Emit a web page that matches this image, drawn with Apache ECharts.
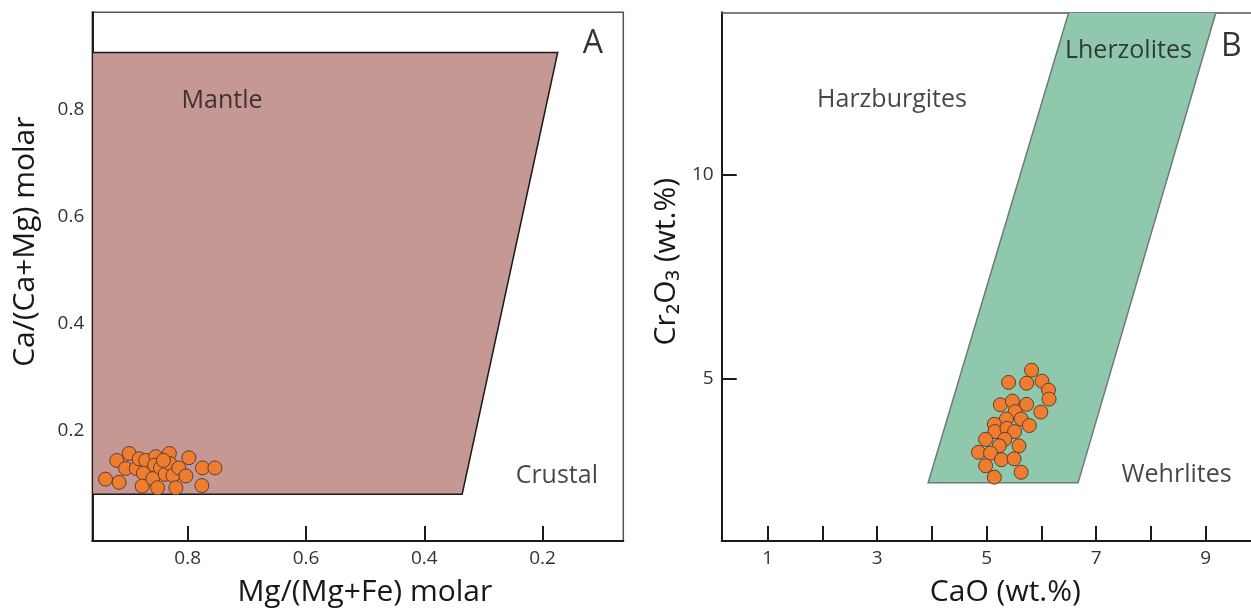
<!DOCTYPE html>
<html>
<head>
<meta charset="utf-8">
<title>Olivine / garnet discrimination plots</title>
<script src="https://cdn.jsdelivr.net/npm/echarts@6/dist/echarts.min.js"></script>
<style>
  html, body { margin: 0; padding: 0; background: #fff; }
  #chart { width: 1251px; height: 612px; }
</style>
</head>
<body>
<div id="chart"></div>
<script>
// ---- panel A: Mg/(Mg+Fe) vs Ca/(Ca+Mg) ----
const mgNumber = [0.939, 0.916, 0.920, 0.899, 0.905, 0.887, 0.882, 0.871, 0.875, 0.877,
  0.854, 0.856, 0.859, 0.851, 0.846, 0.838, 0.831, 0.830, 0.825, 0.820,
  0.815, 0.803, 0.798, 0.775, 0.776, 0.754, 0.841];
const caRatio = [0.110, 0.104, 0.145, 0.158, 0.130, 0.130, 0.148, 0.145, 0.121, 0.097,
  0.152, 0.136, 0.111, 0.094, 0.131, 0.119, 0.158, 0.139, 0.117, 0.094,
  0.131, 0.116, 0.150, 0.131, 0.098, 0.131, 0.145];
// mantle field outline
const mantleFieldX = [0.9613, 0.1745, 0.336, 0.9613];
const mantleFieldY = [0.907, 0.907, 0.082, 0.082];
const aTicks = [0.2, 0.4, 0.6, 0.8];
const aNames = ['Mantle', 'Crustal', 'A'];
const aNameX = [0.742, 0.176, 0.115];
const aNameY = [0.817, 0.117, 0.923];

// ---- panel B: CaO vs Cr2O3 ----
const caO = [5.82, 5.40, 5.73, 6.01, 6.13, 6.14, 5.25, 5.47, 5.73, 5.99,
  5.52, 5.36, 5.63, 5.78, 5.14, 5.15, 5.37, 5.51, 4.98, 5.33,
  5.23, 5.59, 4.85, 5.07, 5.27, 5.50, 4.98, 5.63, 5.14];
const cr2O3 = [5.20, 4.90, 4.88, 4.93, 4.71, 4.49, 4.35, 4.44, 4.36, 4.17,
  4.18, 4.00, 4.00, 3.84, 3.87, 3.69, 3.77, 3.69, 3.50, 3.50,
  3.34, 3.34, 3.18, 3.16, 3.00, 3.02, 2.85, 2.69, 2.57];
// lherzolite field outline
const lherzFieldX = [3.93, 6.67, 9.19, 6.50];
const lherzFieldY = [2.43, 2.43, 14.0, 14.0];
const bXTicks = [1, 2, 3, 4, 5, 6, 7, 8, 9];
const bXLabels = [1, 3, 5, 7, 9];
const bYTicks = [5, 10];
const bNames = ['Lherzolites', 'Harzburgites', 'Wehrlites', 'B'];
const bNameX = [7.59, 3.27, 8.47, 9.47];
const bNameY = [13.04, 11.85, 2.63, 13.14];

const FONT = 'Open Sans';
const chart = echarts.init(document.getElementById('chart'));

// 轴的通用样式
function axisStyle(tickValues, labelValues) {
  return {
    type: 'value',
    axisLine: { show: true, onZero: false, lineStyle: { color: '#1a1a1a', width: 2 } },
    axisTick: { show: true, inside: true, length: 15, customValues: tickValues,
      lineStyle: { color: '#1a1a1a', width: 2 } },
    axisLabel: { customValues: labelValues, margin: 8, fontSize: 19, color: '#333', fontFamily: FONT },
    splitLine: { show: false },
    nameLocation: 'middle'
  };
}

// 区域多边形
function fieldSeries(idx, xs, ys, fill, stroke) {
  return {
    type: 'custom',
    xAxisIndex: idx,
    yAxisIndex: idx,
    silent: true,
    clip: true,
    data: [0],
    renderItem: function (params, api) {
      const pts = xs.map((x, i) => api.coord([x, ys[i]]));
      return {
        type: 'polygon',
        shape: { points: pts },
        style: { fill: fill, stroke: stroke, lineWidth: 1.5 }
      };
    }
  };
}

function pointSeries(idx, xs, ys) {
  return {
    type: 'scatter',
    xAxisIndex: idx,
    yAxisIndex: idx,
    symbolSize: 14,
    itemStyle: { color: '#f07c30', borderColor: '#5a4030', borderWidth: 1, opacity: 1 },
    data: xs.map((x, i) => [x, ys[i]])
  };
}

function nameSeries(idx, names, xs, ys) {
  return {
    type: 'scatter',
    xAxisIndex: idx,
    yAxisIndex: idx,
    silent: true,
    symbolSize: 1,
    itemStyle: { color: 'rgba(0,0,0,0)' },
    label: { show: true, position: 'inside', formatter: '{b}', fontSize: 25, color: '#1a1718', fontFamily: FONT },
    data: names.map((n, i) => ({
      name: n,
      value: [xs[i], ys[i]],
      label: n.length === 1 ? { fontSize: 32, color: '#000' } : {}
    }))
  };
}

const titleStyle = { fontSize: 30, color: '#1a1718', fontFamily: FONT };

const xA = axisStyle(aTicks, aTicks);
Object.assign(xA, {
  gridIndex: 0, inverse: true, min: 0.0636, max: 0.9613,
  name: 'Mg/(Mg+Fe) molar', nameGap: 36,
  nameTextStyle: Object.assign({ padding: [0, 0, 0, 14] }, titleStyle)
});
const yA = axisStyle(aTicks, aTicks);
Object.assign(yA, {
  gridIndex: 0, min: -0.0055, max: 0.982,
  name: 'Ca/(Ca+Mg) molar', nameGap: 52,
  nameTextStyle: Object.assign({ padding: [0, 0, 0, 70] }, titleStyle)
});
const xB = axisStyle(bXTicks, bXLabels);
Object.assign(xB, {
  gridIndex: 1, min: 0.158, max: 9.83,
  name: 'CaO (wt.%)', nameGap: 36,
  nameTextStyle: Object.assign({ padding: [0, 0, 0, 38] }, titleStyle)
});
const yB = axisStyle(bYTicks, bYTicks);
Object.assign(yB, {
  gridIndex: 1, min: 1, max: 14,
  name: 'Cr₂O₃ (wt.%)', nameGap: 40,
  nameTextStyle: Object.assign({ padding: [0, 0, 0, 30] }, titleStyle)
});
// 面板B只有上边框（右边被裁掉）
const xBTop = {
  type: 'value', gridIndex: 1, position: 'top', min: 0.158, max: 9.83,
  axisLine: { show: true, lineStyle: { color: '#555', width: 1.5 } },
  axisTick: { show: false }, axisLabel: { show: false }, splitLine: { show: false }
};

const option = {
  backgroundColor: '#fff',
  animation: false,
  grid: [
    { left: 92.3, top: 12.3, width: 531, height: 530.4, show: true, borderColor: '#555', borderWidth: 1.5 },
    { left: 721.7, top: 12.3, width: 530, height: 530.4 }
  ],
  xAxis: [xA, xB, xBTop],
  yAxis: [yA, yB],
  series: [
    fieldSeries(0, mantleFieldX, mantleFieldY, '#c59894', '#1a1a1a'),
    pointSeries(0, mgNumber, caRatio),
    nameSeries(0, aNames, aNameX, aNameY),
    fieldSeries(1, lherzFieldX, lherzFieldY, '#8fc8ac', '#707a74'),
    pointSeries(1, caO, cr2O3),
    nameSeries(1, bNames, bNameX, bNameY)
  ]
};

chart.setOption(option);
</script>
</body>
</html>
